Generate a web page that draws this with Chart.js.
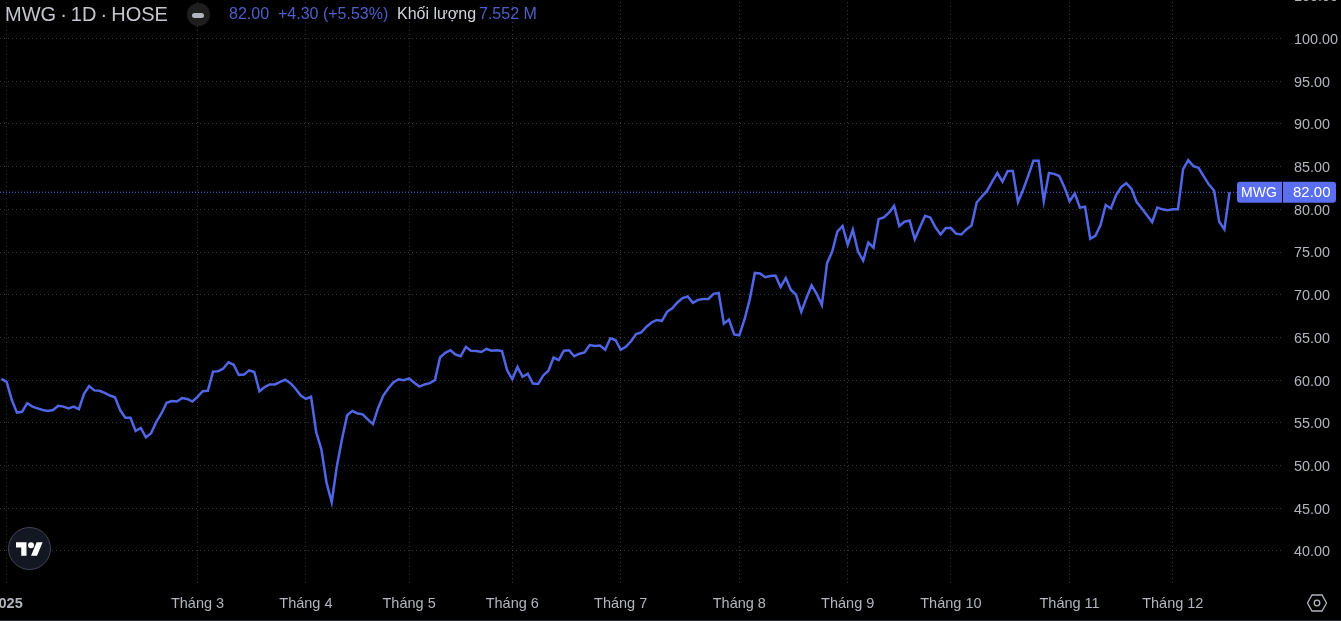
<!DOCTYPE html>
<html>
<head>
<meta charset="utf-8">
<title>MWG</title>
<script src="https://cdn.jsdelivr.net/npm/chart.js@4/dist/chart.umd.min.js"></script>
<style>
html,body{margin:0;padding:0;background:#000;width:1341px;height:621px;overflow:hidden;font-family:"Liberation Sans",Arial,sans-serif;}
#myChart{position:absolute;left:0;top:-30px;}
.txt{position:absolute;white-space:nowrap;}
#bottomLine{position:absolute;left:0;top:620px;width:1341px;height:1px;background:#2a2e39;}
#tvLogo{position:absolute;left:8px;top:527px;width:41px;height:41px;border-radius:50%;background:#131722;border:1px solid #434651;}
#tvLogo svg{position:absolute;left:7px;top:14px;}
#dot{position:absolute;left:187px;top:3px;width:23px;height:23px;border-radius:50%;background:#1e1e1e;}
#dot i{position:absolute;left:5px;top:10px;width:12px;height:5px;border-radius:3px;background:#b2b5be;}
#gear{position:absolute;left:1307px;top:593px;}
</style>
</head>
<body>
<canvas id="myChart" width="1341" height="651"></canvas>

<div class="txt" style="left:5px;top:3px;font-size:20px;word-spacing:-1.5px;color:#c4c6cc;">MWG · 1D · HOSE</div>
<div id="dot"><i></i></div>
<div class="txt" style="left:229px;top:5px;font-size:16px;color:#4f5fc8;">82.00</div>
<div class="txt" style="left:278px;top:5px;font-size:16px;color:#4f5fc8;">+4.30 (+5.53%)</div>
<div class="txt" style="left:397px;top:5px;font-size:16px;color:#d1d4dc;">Khối lượng</div>
<div class="txt" style="left:479px;top:5px;font-size:16px;color:#4f5fc8;">7.552 M</div>

<div id="tvLogo">
    <svg width="27" height="14" viewBox="0 4 36 18"><path fill="#fff" d="M14 22H7V11H0V4h14v18zM28 22h-8l7.5-18h8L28 22z"/><circle fill="#fff" cx="20" cy="8" r="4"/></svg>
</div>
<svg id="gear" width="20" height="20" viewBox="0 0 20 20"><polygon points="5,2 15,2 19.5,10 15,18 5,18 0.5,10" fill="none" stroke="#b2b5be" stroke-width="1.3"/><circle cx="10" cy="10" r="2.8" fill="none" stroke="#b2b5be" stroke-width="1.3"/></svg>
<div id="bottomLine"></div>

<script>
// daily close, first point is just before the first tick
var closes=[60.15,59.8,57.7,56.2,56.3,57.3,56.9,56.7,56.5,56.4,56.5,57.0,56.9,56.7,56.9,56.6,
58.4,59.3,58.8,58.75,58.5,58.2,58.0,56.5,55.6,55.6,54.05,54.4,53.3,53.8,55.1,56.1,57.35,57.55,57.5,57.9,57.8,57.5,
58.05,58.7,58.75,61.0,61.05,61.35,62.1,61.8,60.6,60.65,61.15,60.95,58.7,59.2,59.5,59.5,59.8,60.05,59.65,59.0,58.2,
57.8,58.05,53.9,51.9,48.0,45.7,49.9,53.1,55.9,56.4,56.1,56.0,55.4,54.85,56.75,58.2,59.05,59.75,60.1,60.0,
60.2,59.7,59.25,59.5,59.65,60.0,62.65,63.2,63.5,63.0,62.8,63.9,63.45,63.4,63.3,63.65,63.45,63.5,63.4,61.15,
60.1,61.55,60.4,60.75,59.6,59.55,60.55,61.1,62.65,62.35,63.45,63.5,62.8,63.1,63.25,64.1,64.0,64.05,63.55,64.9,64.7,
63.55,63.9,64.55,65.4,65.6,66.25,66.75,67.05,66.95,68.0,68.4,69.1,69.6,69.8,69.05,69.4,69.5,69.5,70.1,70.2,66.6,67.1,65.35,
65.25,67.1,69.4,72.55,72.5,72.05,72.2,72.25,70.9,71.95,70.55,70.0,68.0,69.6,71.1,70.1,68.8,73.7,75.05,77.4,78.05,
75.85,77.6,75.05,74.0,76.1,75.5,78.85,79.05,79.6,80.4,78.05,78.55,78.7,76.5,77.9,79.25,79.05,77.9,77.05,77.8,
77.8,77.15,77.05,77.65,78.1,80.8,81.5,82.15,83.25,84.25,83.25,84.5,84.5,80.85,82.3,83.95,85.7,85.7,80.95,84.25,84.15,83.9,82.6,
80.95,81.85,80.2,80.3,76.55,76.9,78.15,80.5,80.1,81.65,82.6,83.05,82.4,80.85,80.1,79.3,78.5,80.2,80.0,79.9,80.0,
80.0,84.7,85.75,85.05,84.85,83.85,82.9,82.2,78.55,77.65,82.0];

var lastPrice=82.00;
var tickIdx=[0,37,58,78,98,119,142,163,183,206,226];
var tickNames=['2025','Tháng 3','Tháng 4','Tháng 5','Tháng 6','Tháng 7','Tháng 8','Tháng 9','Tháng 10','Tháng 11','Tháng 12'];
var priceTicks=[40,45,50,55,60,65,70,75,80,85,90,95,100,105];

var lineColor='#5066e6';
var badgeColor='#5a6ff0';
var tickColor='#b2b5be';
var gridColor='rgba(125,128,138,0.42)';
var xMin=-1.28, xMax=247.36;

var badgePlugin={
    id:'badge',
    afterDraw:function(chart){
        var ctx=chart.ctx;
        var y=chart.scales.y.getPixelForValue(lastPrice);
        ctx.save();
        ctx.fillStyle=badgeColor;
        ctx.beginPath();
        ctx.roundRect(1237,y-10.5,45,21,[3,0,0,3]);
        ctx.fill();
        ctx.beginPath();
        ctx.roundRect(1283,y-10.5,53,21,[0,3,3,0]);
        ctx.fill();
        ctx.fillStyle='#fff';
        ctx.textBaseline='middle';
        ctx.textAlign='left';
        ctx.font='14px "Liberation Sans"';
        ctx.fillText('MWG',1241,y+1);
        ctx.font='15px "Liberation Sans"';
        ctx.fillText(lastPrice.toFixed(2),1293,y+1);
        ctx.restore();
    }
};

var ctx=document.getElementById('myChart').getContext('2d');
var myChart=new Chart(ctx,{
    type:'line',
    plugins:[badgePlugin],
    data:{
        datasets:[{
            data:closes.map(function(v,i){return {x:i-1,y:v};}),
            borderColor:lineColor,
            borderWidth:2.5,
            pointRadius:0,
            tension:0
        },{
            data:[{x:xMin,y:lastPrice},{x:xMax,y:lastPrice}],
            borderColor:badgeColor,
            borderWidth:1,
            borderDash:[1,2],
            pointRadius:0
        }]
    },
    options:{
        responsive:false,
        animation:false,
        layout:{padding:0},
        plugins:{legend:{display:false},tooltip:{enabled:false}},
        scales:{
            x:{
                type:'linear',
                min:xMin,
                max:xMax,
                afterBuildTicks:function(scale){
                    scale.ticks=tickIdx.map(function(v){return {value:v};});
                },
                afterFit:function(scale){
                    scale.height=38;
                    scale.paddingLeft=0;
                    scale.paddingRight=0;
                },
                grid:{color:gridColor,drawTicks:false},
                border:{display:false,dash:[1,3]},
                ticks:{
                    autoSkip:false,
                    maxRotation:0,
                    padding:12,
                    color:tickColor,
                    font:function(c){
                        return {family:'"Liberation Sans"',size:14.5,weight:c.index===0?'bold':'normal'};
                    },
                    callback:function(v,i){return tickNames[i];}
                }
            },
            y:{
                position:'right',
                min:36.25,
                max:108.02,
                afterBuildTicks:function(scale){
                    scale.ticks=priceTicks.map(function(v){return {value:v};});
                },
                afterFit:function(scale){
                    scale.width=58;
                    scale.paddingTop=0;
                    scale.paddingBottom=0;
                },
                grid:{color:gridColor,drawTicks:false},
                border:{display:false,dash:[1,3]},
                ticks:{
                    padding:11,
                    crossAlign:'near',
                    labelOffset:1.5,
                    color:tickColor,
                    font:{family:'"Liberation Sans"',size:14.4},
                    callback:function(v){return v.toFixed(2);}
                }
            }
        }
    }
});
</script>
</body>
</html>
